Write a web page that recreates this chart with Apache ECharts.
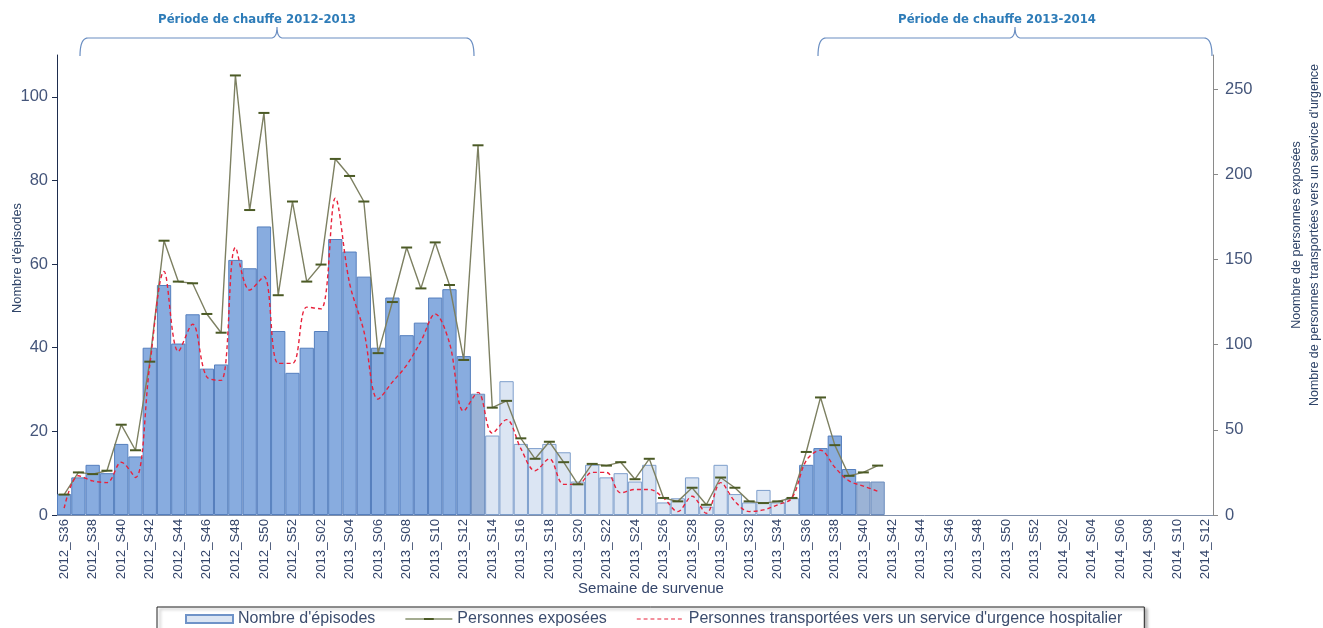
<!DOCTYPE html>
<html>
<head>
<meta charset="utf-8">
<script src="https://cdn.jsdelivr.net/npm/echarts@6/dist/echarts.min.js"></script>
<style>
html,body{margin:0;padding:0;background:#fff}
#main{width:1323px;height:628px}
</style>
</head>
<body>
<div id="main"></div>
<script>
var weeks = [
  '2012_S36','2012_S37','2012_S38','2012_S39','2012_S40','2012_S41','2012_S42','2012_S43','2012_S44','2012_S45',
  '2012_S46','2012_S47','2012_S48','2012_S49','2012_S50','2012_S51','2012_S52',
  '2013_S01','2013_S02','2013_S03','2013_S04','2013_S05','2013_S06','2013_S07','2013_S08','2013_S09','2013_S10',
  '2013_S11','2013_S12','2013_S13','2013_S14','2013_S15','2013_S16','2013_S17','2013_S18','2013_S19','2013_S20',
  '2013_S21','2013_S22','2013_S23','2013_S24','2013_S25','2013_S26','2013_S27','2013_S28','2013_S29','2013_S30',
  '2013_S31','2013_S32','2013_S33','2013_S34','2013_S35','2013_S36','2013_S37','2013_S38','2013_S39','2013_S40',
  '2013_S41','2013_S42','2013_S43','2013_S44','2013_S45','2013_S46','2013_S47','2013_S48','2013_S49','2013_S50',
  '2013_S51','2013_S52',
  '2014_S01','2014_S02','2014_S03','2014_S04','2014_S05','2014_S06','2014_S07','2014_S08','2014_S09','2014_S10',
  '2014_S11','2014_S12'
];
// nombre d'episodes (axe gauche)
var episodes = [
  5, 9, 12, 10, 17, 14, 40, 55, 41, 48, 35, 36, 61, 59, 69, 44, 34,
  40, 44, 66, 63, 57, 40, 52, 43, 46, 52, 54, 38, 29, 19, 32, 17, 16, 17, 15, 8,
  12, 9, 10, 8, 12, 3, 4, 9, 2, 12, 5, 3, 6, 3, 4, 12, 16, 19, 11, 8, 8
];
// personnes exposees (axe droit)
var exposees = [
  12, 25, 24, 26, 53, 38, 90, 161, 137, 136, 118, 107, 258, 179, 236, 129, 184,
  137, 147, 209, 199, 184, 95, 125, 157, 133, 160, 135, 91, 217, 63, 67, 45, 33, 43, 31, 18,
  30, 29, 31, 21, 33, 10, 8, 16, 6, 22, 16, 8, 7, 8, 10, 37, 69, 41, 23, 25, 29
];
// personnes transportees aux urgences (axe droit)
var transportees = [
  4, 23, 20, 19, 31, 22, 88, 143, 96, 112, 81, 79, 157, 132, 140, 89, 89,
  122, 121, 186, 136, 108, 68, 78, 88, 102, 118, 101, 61, 72, 48, 56, 39, 26, 33, 18, 18,
  25, 25, 13, 15, 15, 10, 2, 11, 1, 19, 8, 2, 3, 6, 10, 32, 38, 28, 20, 17, 14
];
var leftTicks = [0, 20, 40, 60, 80, 100];
var rightTicks = [0, 50, 100, 150, 200, 250];

var FONT = "'Liberation Sans', Arial, sans-serif";

function barStyle(w) {
  if (w === '2013_S13' || w === '2013_S40' || w === '2013_S41') {
    return {color: '#9BB3D6', borderColor: '#6C8DBE', borderWidth: 1};
  }
  if (w >= '2013_S14' && w <= '2013_S35') {
    return {color: '#DBE5F3', borderColor: '#7E9FCC', borderWidth: 1};
  }
  return {color: '#88ACDF', borderColor: '#557FBE', borderWidth: 1};
}

var barData = episodes.map(function (v, i) {
  return {value: v, itemStyle: barStyle(weeks[i])};
});

// accolade au-dessus des periodes de chauffe (polyline echantillonnee)
function quad(pts, p0, p1, p2) {
  for (var t = 0.1; t <= 1.0001; t += 0.1) {
    var a = (1 - t) * (1 - t), b = 2 * (1 - t) * t, c = t * t;
    pts.push([a * p0[0] + b * p1[0] + c * p2[0], a * p0[1] + b * p1[1] + c * p2[1]]);
  }
}
function brace(x0, x1) {
  var xm = (x0 + x1) / 2, yl = 38, ye = 56, yc = 27;
  var pts = [[x0, ye]];
  quad(pts, [x0, ye], [x0, yl], [x0 + 8, yl]);
  pts.push([xm - 6, yl]);
  quad(pts, [xm - 6, yl], [xm, yl], [xm, yc]);
  quad(pts, [xm, yc], [xm, yl], [xm + 6, yl]);
  pts.push([x1 - 8, yl]);
  quad(pts, [x1 - 8, yl], [x1, yl], [x1, ye]);
  return pts;
}

// icones de legende : trait fin (les coins minuscules fixent la boite 48x8)
var corners = 'M0,0h0.05v0.05h-0.05z M47.95,7.95h0.05v0.05h-0.05z ';
var iconExpo = 'path://' + corners + 'M0,3.5h48v1h-48z M19,3h10v2h-10z';
var iconTransp = 'path://' + corners +
  'M0,3.5h4v1h-4z M7,3.5h4v1h-4z M14,3.5h4v1h-4z M21,3.5h4v1h-4z M28,3.5h4v1h-4z M35,3.5h4v1h-4z M42,3.5h4v1h-4z';

var myChart = echarts.init(document.getElementById('main'));
var option = {
  animation: false,
  textStyle: {fontFamily: FONT},
  grid: {left: 57, right: 110, top: 55, bottom: 113},
  legend: {
    left: 157,
    top: 607,
    orient: 'horizontal',
    padding: [4, 22, 20, 28],
    itemGap: 30,
    itemWidth: 47,
    itemHeight: 8,
    borderColor: '#222',
    borderWidth: 1,
    backgroundColor: '#fff',
    shadowColor: 'rgba(0,0,0,0.35)',
    shadowBlur: 3,
    shadowOffsetX: 3,
    shadowOffsetY: 2,
    textStyle: {fontSize: 16, color: '#3C4D6E', fontFamily: FONT},
    data: [
      {name: "Nombre d'épisodes", icon: 'rect'},
      {name: 'Personnes exposées', icon: iconExpo},
      {name: "Personnes transportées vers un service d'urgence hospitalier", icon: iconTransp}
    ]
  },
  xAxis: {
    type: 'category',
    data: weeks,
    boundaryGap: true,
    axisLine: {lineStyle: {color: '#7F8FAA', width: 1}},
    axisTick: {interval: 0, length: 5, lineStyle: {color: '#4A5A78'}},
    axisLabel: {
      interval: 1,
      rotate: 90,
      fontSize: 13.2,
      color: '#34456A',
      margin: 4
    }
  },
  yAxis: [
    {
      type: 'value',
      min: 0,
      max: 110,
      splitLine: {show: false},
      axisLine: {show: true, lineStyle: {color: '#1E2D4E', width: 1}},
      axisTick: {show: true, length: 5, customValues: leftTicks, lineStyle: {color: '#1E2D4E'}},
      axisLabel: {fontSize: 16.5, color: '#44557A', margin: 9, customValues: leftTicks}
    },
    {
      type: 'value',
      min: 0,
      max: 270,
      position: 'right',
      splitLine: {show: false},
      axisLine: {show: true, lineStyle: {color: '#8A8A8A', width: 1}},
      axisTick: {show: true, length: 5, customValues: rightTicks, lineStyle: {color: '#8A8A8A'}},
      axisLabel: {fontSize: 16.5, color: '#44557A', margin: 12, customValues: rightTicks}
    }
  ],
  series: [
    {
      name: "Nombre d'épisodes",
      type: 'bar',
      data: barData,
      barCategoryGap: '0%',
      itemStyle: {color: '#DBE5F3', borderColor: '#6F93C8', borderWidth: 1}
    },
    {
      name: 'Personnes exposées',
      type: 'line',
      yAxisIndex: 1,
      data: exposees,
      symbol: 'rect',
      symbolSize: [11, 2],
      itemStyle: {color: '#4B5A25'},
      lineStyle: {color: '#7D8062', width: 1.4}
    },
    {
      name: "Personnes transportées vers un service d'urgence hospitalier",
      type: 'line',
      yAxisIndex: 1,
      data: transportees,
      smooth: 0.35,
      symbol: 'none',
      itemStyle: {color: '#E8223C'},
      lineStyle: {color: '#E8223C', width: 1.4, type: [4, 3]}
    }
  ],
  graphic: [
    {type: 'polyline', shape: {points: brace(80, 474)}, style: {fill: null, stroke: '#6A8EC2', lineWidth: 1.2}},
    {type: 'polyline', shape: {points: brace(818, 1212)}, style: {fill: null, stroke: '#6A8EC2', lineWidth: 1.2}},
    {type: 'text', x: 257, y: 20, style: {text: 'Période de chauffe 2012-2013', fill: '#2E7CB8',
      font: "bold 11.7px 'DejaVu Sans', Verdana, sans-serif", align: 'center', verticalAlign: 'middle'}},
    {type: 'text', x: 997, y: 20, style: {text: 'Période de chauffe 2013-2014', fill: '#2E7CB8',
      font: "bold 11.7px 'DejaVu Sans', Verdana, sans-serif", align: 'center', verticalAlign: 'middle'}},
    {type: 'text', x: 17, y: 258, rotation: Math.PI / 2, style: {text: "Nombre d'épisodes", fill: '#2F4468',
      font: '12.8px ' + FONT, align: 'center', verticalAlign: 'middle'}},
    {type: 'text', x: 1306, y: 235, rotation: Math.PI / 2, style: {
      text: 'Noombre de personnes exposées\nNombre de personnes transportées vers un service d\'urgence',
      fill: '#2F4468', font: '12.5px ' + FONT, align: 'center', verticalAlign: 'middle', lineHeight: 18}},
    {type: 'text', x: 651, y: 589, style: {text: 'Semaine de survenue', fill: '#34456A',
      font: '15px ' + FONT, align: 'center', verticalAlign: 'middle'}}
  ]
};
myChart.setOption(option);
</script>
</body>
</html>
